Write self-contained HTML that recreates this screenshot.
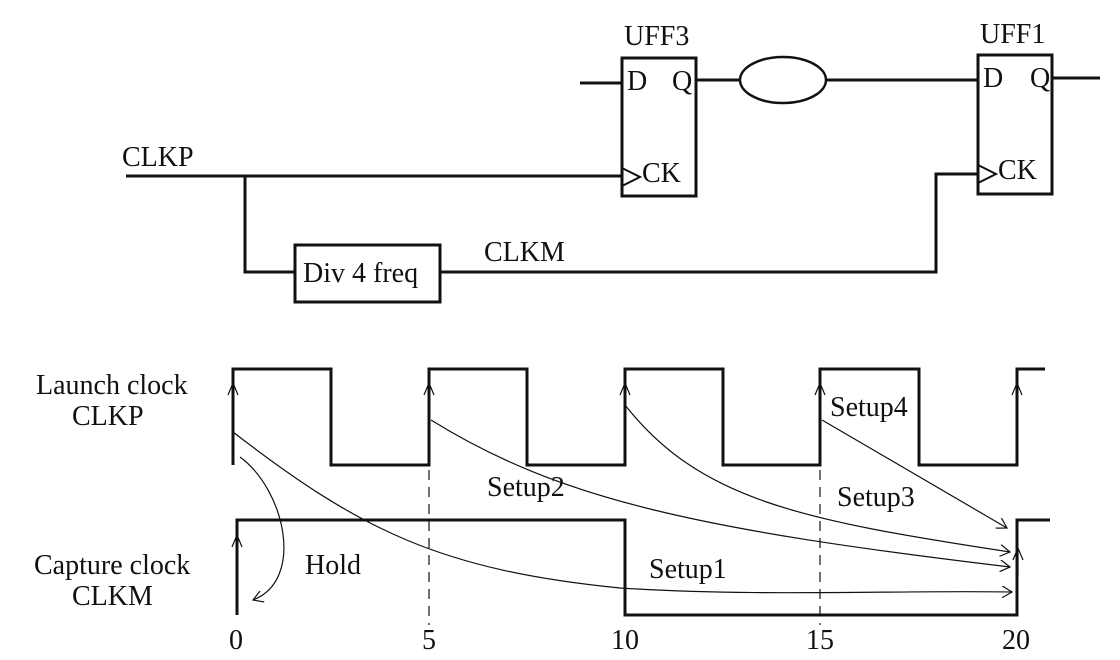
<!DOCTYPE html>
<html><head><style>body{margin:0;background:#fff}svg{display:block}text{font-family:"Liberation Serif",serif;fill:#111}</style></head>
<body>
<svg width="1120" height="660" viewBox="0 0 1120 660">
<defs><marker id="a" markerWidth="12" markerHeight="12" refX="10" refY="6" orient="auto" markerUnits="userSpaceOnUse"><path d="M0,0 L10,6 L0,12" fill="none" stroke="#111" stroke-width="1.2"/></marker></defs>
<g fill="none" stroke="#111" stroke-width="3">
<rect x="622" y="58" width="74" height="138"/>
<rect x="978" y="55" width="74" height="139"/>
<path d="M580,83 H622 M696,80 H740 M826,80 H978 M1052,78 H1100"/>
<ellipse cx="783" cy="80" rx="43" ry="23" stroke-width="2.5"/>
<path d="M126,176 H622 M245,176 V272 H295 M440,272 H936 V174 H978"/>
<rect x="295" y="245" width="145" height="57"/>
<path d="M622,168 L640,177 L622,186 M978,165 L996,174 L978,183" stroke-width="2"/>
<path d="M233,465 V369 H331 V465 H429 V369 H527 V465 H625 V369 H723 V465 H820 V369 H919 V465 H1017 V369 H1045"/>
<path d="M237,615 V520 H625 V615 H1017 V520 H1050"/>
</g>
<g fill="none" stroke="#111" stroke-width="1.2">
<path d="M429,470 V625 M820,470 V625" stroke-dasharray="10,7"/>
<path d="M233,410 V385 M228,395 L233,383 L238,395 M429,410 V385 M424,395 L429,383 L434,395 M625,410 V385 M620,395 L625,383 L630,395 M820,410 V385 M815,395 L820,383 L825,395 M1017,410 V385 M1012,395 L1017,383 L1022,395"/>
<path d="M237,560 V535 M232,547 L237,535 L242,547 M1018,575 V548 M1013,560 L1018,548 L1023,560"/>
<path d="M240,457 C285,490 305,580 253,600" marker-end="url(#a)"/>
<path d="M233,432 C360,530 440,570 620,588 C760,597 900,590 1012,592" marker-end="url(#a)"/>
<path d="M431,420 C560,500 700,530 1010,567" marker-end="url(#a)"/>
<path d="M625,405 C700,500 800,520 1010,552" marker-end="url(#a)"/>
<path d="M822,420 L1007,528" marker-end="url(#a)"/>
</g>
<g font-size="28">
<text x="624" y="45">UFF3</text><text x="980" y="43">UFF1</text>
<text x="627" y="90">D</text><text x="672" y="90">Q</text>
<text x="983" y="87">D</text><text x="1030" y="87">Q</text>
<text x="642" y="182">CK</text><text x="998" y="179">CK</text>
<text x="122" y="166">CLKP</text><text x="484" y="261">CLKM</text>
<text x="303" y="282">Div 4 freq</text>
<text x="36" y="394">Launch clock</text><text x="72" y="425">CLKP</text>
<text x="34" y="574">Capture clock</text><text x="72" y="605">CLKM</text>
<text x="487" y="496">Setup2</text><text x="830" y="416">Setup4</text>
<text x="837" y="506">Setup3</text><text x="649" y="578">Setup1</text>
<text x="305" y="574">Hold</text>
<g text-anchor="middle"><text x="236" y="649">0</text><text x="429" y="649">5</text><text x="625" y="649">10</text><text x="820" y="649">15</text><text x="1016" y="649">20</text></g>
</g>
</svg>
</body></html>
